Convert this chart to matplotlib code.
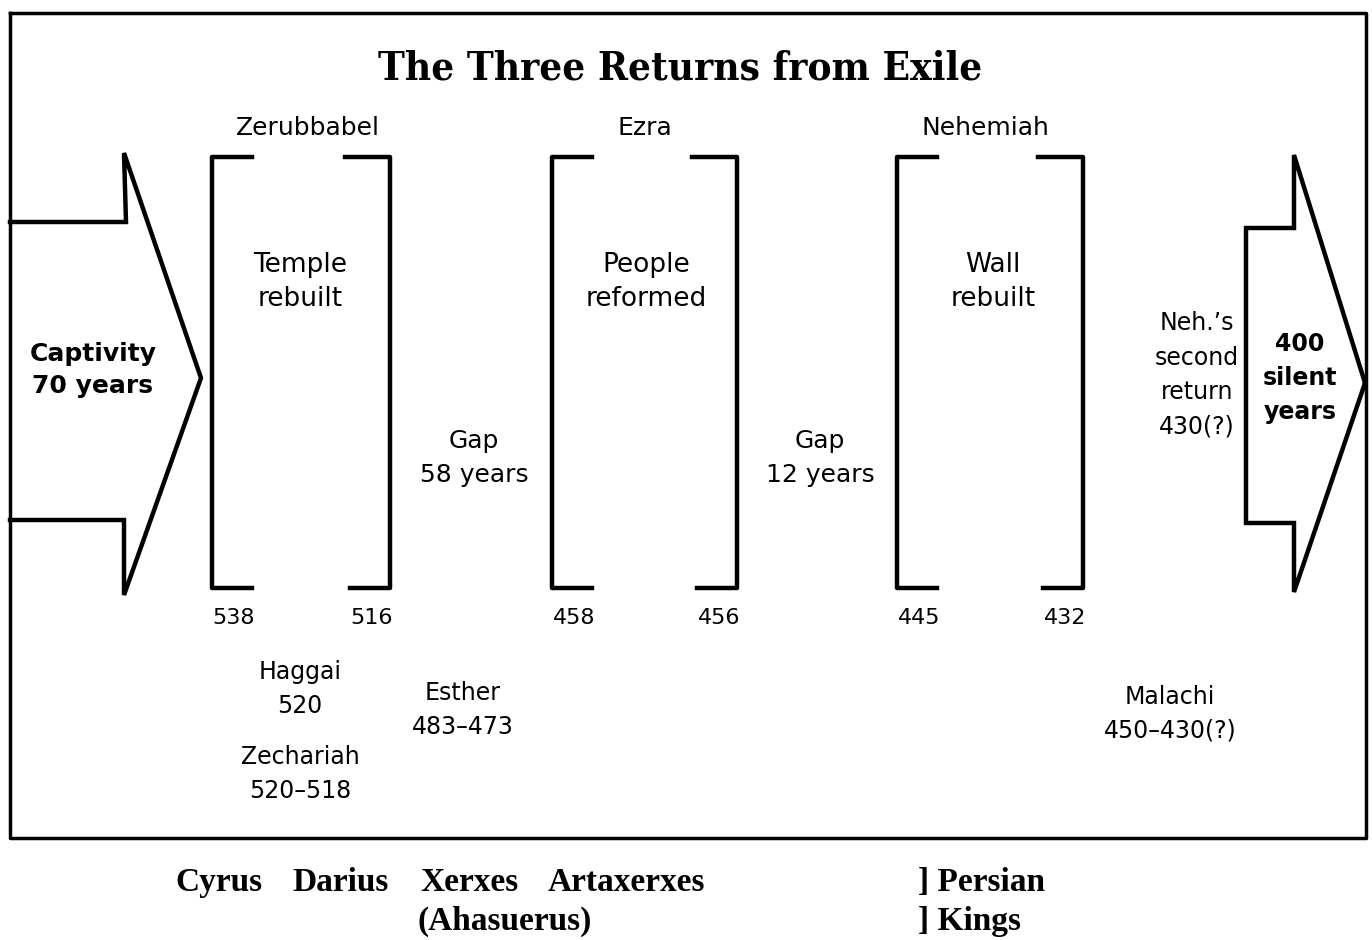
import matplotlib.pyplot as plt

# Returns (leader, work, start year, end year)
leaders = ['Zerubbabel', 'Ezra', 'Nehemiah']
works = ['Temple\nrebuilt', 'People\nreformed', 'Wall\nrebuilt']
start_years = ['538', '458', '445']
end_years = ['516', '456', '432']
gaps = ['Gap\n58 years', 'Gap\n12 years']
prophets = ['Haggai\n520', 'Zechariah\n520–518', 'Esther\n483–473', 'Malachi\n450–430(?)']
kings = ['Cyrus', 'Darius', 'Xerxes', 'Artaxerxes']

# layout in pixel units
bracket_x = [(212, 390), (552, 737), (897, 1083)]
bracket_top, bracket_bot = 157, 588
label_x = [308, 645, 985]
work_x = [300, 646, 993]
gap_x = [474, 820]
prophet_xy = [(300, 689), (300, 774), (463, 710), (1170, 714)]
king_x = [175, 292, 420, 548]

lw = 3.2
font = 'DejaVu Sans'
serif = 'Liberation Serif'
fig = plt.figure(figsize=(13.72, 9.40), dpi=100)
ax = fig.add_axes([0, 0, 1, 1])
ax.set_xlim(0, 1372)
ax.set_ylim(940, 0)
ax.axis('off')

# frame
ax.plot([10, 1366, 1366, 10, 10], [13, 13, 838, 838, 13], color='black', lw=2.5)

# left arrow
ax.plot([10, 126, 124, 201, 124, 124, 10],
        [222, 222, 153, 378, 595, 520, 520], color='black', lw=lw, solid_joinstyle='miter')
# right arrow
ax.plot([1365, 1294, 1294, 1246, 1246, 1294, 1294, 1365],
        [383, 155, 228, 228, 523, 523, 592, 383], color='black', lw=lw, solid_joinstyle='miter')

for (xl, xr), name, work, y0, y1, lx, wx in zip(bracket_x, leaders, works, start_years,
                                                end_years, label_x, work_x):
    ax.plot([xl + 40, xl, xl, xl + 40], [bracket_top, bracket_top, bracket_bot, bracket_bot],
            color='black', lw=lw)
    ax.plot([xr - 45, xr, xr, xr - 40], [bracket_top, bracket_top, bracket_bot, bracket_bot],
            color='black', lw=lw)
    ax.text(lx, 128, name, ha='center', va='center', fontsize=18, family=font)
    ax.text(wx, 282, work, ha='center', va='center', fontsize=19, family=font, linespacing=1.4)
    ax.text(xl + 22, 618, y0, ha='center', va='center', fontsize=16, family=font)
    ax.text(xr - 18, 618, y1, ha='center', va='center', fontsize=16, family=font)

for gx, g in zip(gap_x, gaps):
    ax.text(gx, 458, g, ha='center', va='center', fontsize=18, family=font, linespacing=1.5)

for (px, py), p in zip(prophet_xy, prophets):
    ax.text(px, py, p, ha='center', va='center', fontsize=17, family=font, linespacing=1.5)

ax.text(680, 68, 'The Three Returns from Exile', ha='center', va='center',
        fontsize=29, family='DejaVu Serif', fontweight='bold', fontstretch='condensed')
ax.text(93, 370, 'Captivity\n70 years', ha='center', va='center', fontsize=18,
        family=font, fontweight='bold', linespacing=1.45)
ax.text(1197, 375, "Neh.’s\nsecond\nreturn\n430(?)", ha='center', va='center',
        fontsize=17, family=font, linespacing=1.55)
ax.text(1300, 378, '400\nsilent\nyears', ha='center', va='center', fontsize=17,
        family=font, fontweight='bold', linespacing=1.55)

# Persian kings below the frame
for kx, k in zip(king_x, kings):
    ax.text(kx, 891, k, ha='left', va='baseline', fontsize=24, family=serif, fontweight='bold')
ax.text(505, 930, '(Ahasuerus)', ha='center', va='baseline', fontsize=24,
        family=serif, fontweight='bold')
ax.text(918, 891, '] Persian', ha='left', va='baseline', fontsize=24,
        family=serif, fontweight='bold')
ax.text(918, 930, '] Kings', ha='left', va='baseline', fontsize=24,
        family=serif, fontweight='bold')

fig.savefig('out.png', dpi=100, facecolor='white')
